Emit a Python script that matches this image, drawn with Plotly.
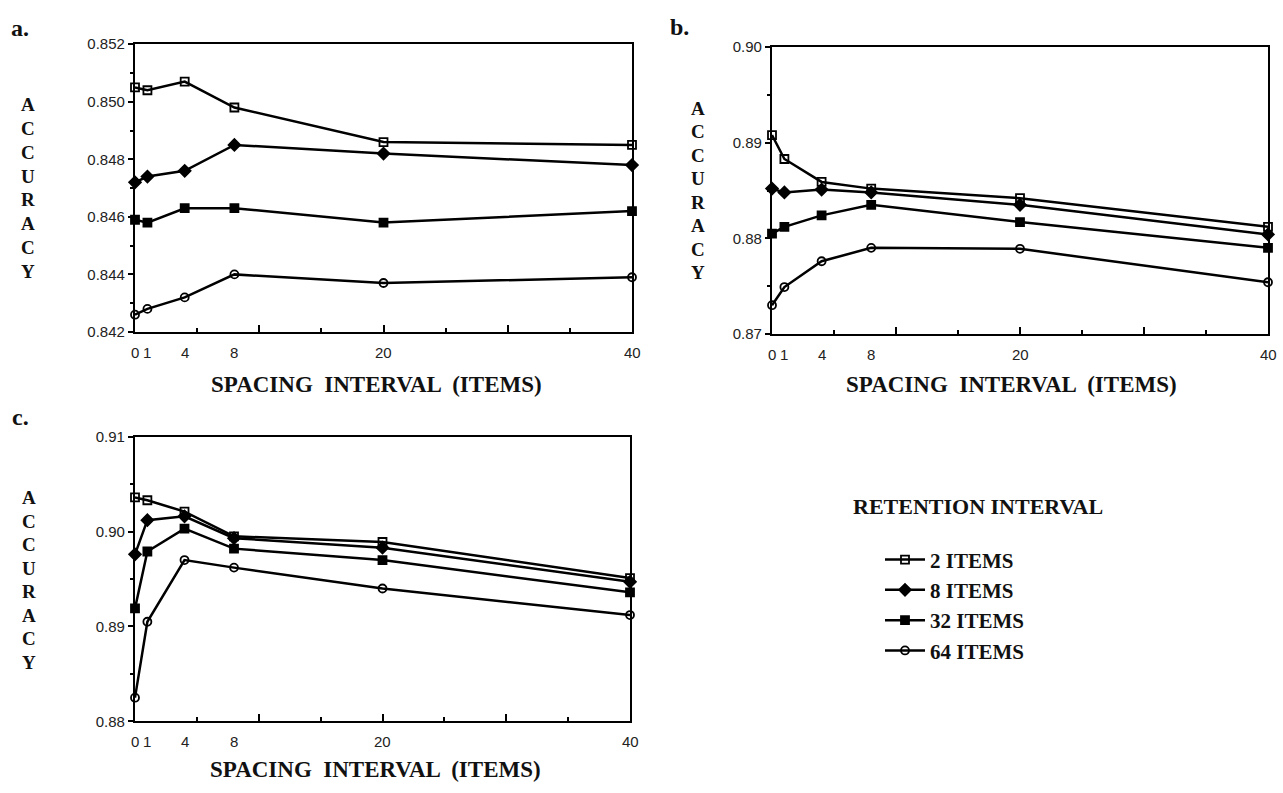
import plotly.graph_objects as go

# ---------------- data ----------------
spacing = [0, 1, 4, 8, 20, 40]
x_tick_labels = ["0", "1", "4", "8", "20", "40"]
retention_names = ["2 ITEMS", "8 ITEMS", "32 ITEMS", "64 ITEMS"]

a_2 = [0.8505, 0.8504, 0.8507, 0.8498, 0.8486, 0.8485]
a_8 = [0.8472, 0.8474, 0.8476, 0.8485, 0.8482, 0.8478]
a_32 = [0.8459, 0.8458, 0.8463, 0.8463, 0.8458, 0.8462]
a_64 = [0.8426, 0.8428, 0.8432, 0.8440, 0.8437, 0.8439]

b_2 = [0.8908, 0.8883, 0.8859, 0.8852, 0.8842, 0.8812]
b_8 = [0.8852, 0.8848, 0.8851, 0.8848, 0.8835, 0.8804]
b_32 = [0.8805, 0.8812, 0.8824, 0.8835, 0.8817, 0.8790]
b_64 = [0.8730, 0.8749, 0.8776, 0.8790, 0.8789, 0.8754]

c_2 = [0.9036, 0.9033, 0.9021, 0.8995, 0.8989, 0.8951]
c_8 = [0.8976, 0.9012, 0.9016, 0.8993, 0.8983, 0.8947]
c_32 = [0.8919, 0.8979, 0.9003, 0.8982, 0.8970, 0.8936]
c_64 = [0.8825, 0.8905, 0.8970, 0.8962, 0.8940, 0.8912]

panel_a = [a_2, a_8, a_32, a_64]
panel_b = [b_2, b_8, b_32, b_64]
panel_c = [c_2, c_8, c_32, c_64]

# ---------------- styling ----------------
W, H = 1283, 793
def px(x):
    return x / W
def py(y):
    return 1 - y / H

symbols = ["square-open", "diamond", "square", "circle-open"]
msizes = [8, 9, 8, 8]
SERIF = "Liberation Serif, Times New Roman, serif"
SANS = "Liberation Sans, Arial, sans-serif"
INK = "#111"

fig = go.Figure()

panels = [
    # data, xaxis id, yaxis id, x px domain, y px domain, yrange, dtick, fmt
    (panel_a, "x", "y", (135, 632), (36, 330), [0.842, 0.852], 0.002, ".3f"),
    (panel_b, "x2", "y2", (772, 1268), (39, 332), [0.87, 0.90], 0.01, ".2f"),
    (panel_c, "x3", "y3", (135, 630), (437, 728), [0.88, 0.91], 0.01, ".2f"),
]

for pi, (data, xa, ya, xd, yd, yr, dt, fmt) in enumerate(panels):
    for si, series in enumerate(data):
        fig.add_trace(go.Scatter(
            x=spacing, y=series, xaxis=xa, yaxis=ya,
            mode="lines+markers", name="<b>" + retention_names[si] + "</b>",
            legendgroup=retention_names[si], showlegend=(pi == 0),
            line=dict(color="black", width=2.5),
            marker=dict(symbol=symbols[si], size=msizes[si], color="black",
                        line=dict(color="black", width=1.8)),
            cliponaxis=False,
        ))

layout = dict(
    width=W, height=H,
    margin=dict(l=0, r=0, t=0, b=0),
    paper_bgcolor="white", plot_bgcolor="white",
    showlegend=True,
    legend=dict(x=px(880), y=py(542), xanchor="left", yanchor="top",
                font=dict(family=SERIF, size=21, color=INK),
                bgcolor="rgba(0,0,0,0)", tracegroupgap=0, itemwidth=40),
)

annotations = []
for pi, (data, xa, ya, xd, yd, yr, dt, fmt) in enumerate(panels):
    xkey = "xaxis" + xa[1:]
    ykey = "yaxis" + ya[1:]
    layout[xkey] = dict(
        domain=[px(xd[0]), px(xd[1])], anchor=ya, range=[0, 40],
        tickmode="linear", tick0=0, dtick=10,
        ticks="inside", ticklen=7, tickwidth=1.8, tickcolor="black",
        minor=dict(tickmode="linear", tick0=0, dtick=5, ticks="inside",
                   ticklen=4, tickwidth=1.8, tickcolor="black"),
        showticklabels=False, showgrid=False, zeroline=False,
        showline=True, mirror=True, linecolor="black", linewidth=2.2,
    )
    layout[ykey] = dict(
        domain=[py(yd[1]), py(yd[0])], anchor=xa, range=yr,
        tickmode="linear", tick0=yr[0], dtick=dt, tickformat=fmt,
        ticks="outside", ticklen=5, tickwidth=1.8, tickcolor="black",
        minor=dict(tickmode="linear", tick0=yr[0], dtick=dt / 2,
                   ticks="outside", ticklen=3, tickwidth=1.8, tickcolor="black"),
        showgrid=False, zeroline=False,
        showline=True, mirror=True, linecolor="black", linewidth=2.2,
        tickfont=dict(family=SANS, size=15, color="#222"),
    )
    # x tick labels at the data positions
    for xv, lab in zip(spacing, x_tick_labels):
        annotations.append(dict(text=lab, x=xv, y=py(yd[1] + 10), xref=xa, yref="paper",
                                showarrow=False, xanchor="center", yanchor="top",
                                font=dict(family=SANS, size=15, color="#222")))

fig.update_layout(**layout)

# panel letters
for txt, x, y in [("a.", 20, 19), ("b.", 680, 18), ("c.", 20, 417)]:
    annotations.append(dict(text="<b>" + txt + "</b>", x=px(x), y=py(y),
                            xref="paper", yref="paper", showarrow=False,
                            xanchor="center", yanchor="middle",
                            font=dict(family=SERIF, size=24, color=INK)))
# x-axis titles
for x, y in [(377, 384), (1011, 384), (375, 777)]:
    annotations.append(dict(text="<b>SPACING  INTERVAL  (ITEMS)</b>", x=px(x), y=py(y),
                            xref="paper", yref="paper", showarrow=False,
                            xanchor="center", yanchor="middle",
                            font=dict(family=SERIF, size=23, color=INK)))
# vertical ACCURACY titles (one text each)
word = "ACCURACY"
for xc, y0, y1 in [(28, 99, 266), (698, 103, 267), (29, 501, 666)]:
    step = (y1 - y0) / (len(word) - 1)
    base = step / 1.3
    txt = "<br>".join('<span style="font-size:19px"><b>' + ch + "</b></span>" for ch in word)
    annotations.append(dict(text=txt, x=px(xc), y=py((y0 + y1) / 2),
                            xref="paper", yref="paper", showarrow=False,
                            xanchor="center", yanchor="middle",
                            font=dict(family=SERIF, size=base, color=INK)))
# legend title
annotations.append(dict(text="<b>RETENTION INTERVAL</b>", x=px(978), y=py(508),
                        xref="paper", yref="paper", showarrow=False,
                        xanchor="center", yanchor="middle",
                        font=dict(family=SERIF, size=22, color=INK)))
fig.update_layout(annotations=annotations)

fig.write_html("out.html",
               config={"displayModeBar": False},
               post_script="document.body.style.margin='0px';document.body.style.overflow='hidden';")
